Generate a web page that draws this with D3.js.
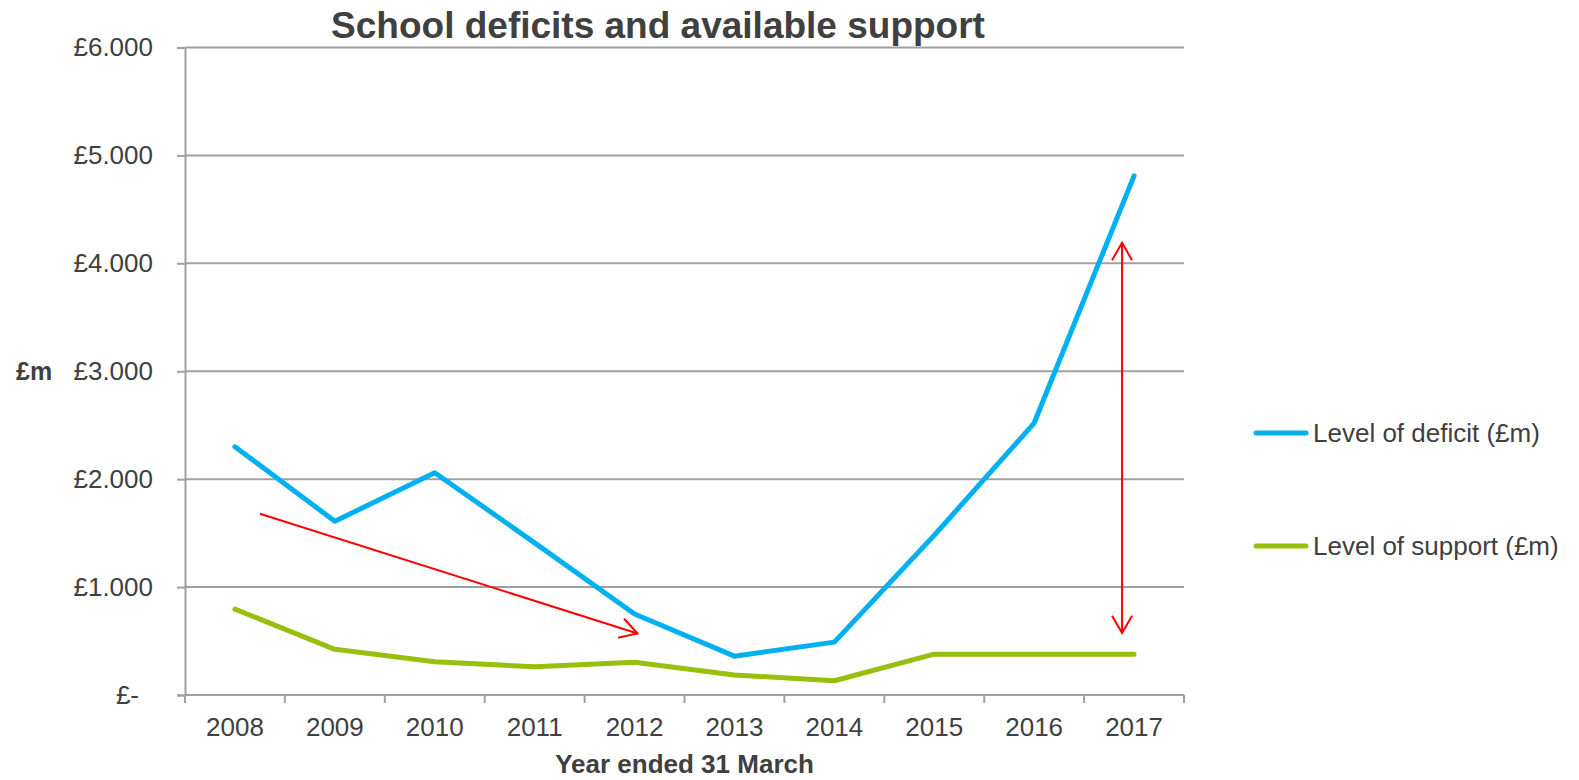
<!DOCTYPE html>
<html>
<head>
<meta charset="utf-8">
<script src="https://cdn.jsdelivr.net/npm/d3@7"></script>
<style>
  html, body { margin: 0; padding: 0; background: #fff; }
  svg { display: block; font-family: "Liberation Sans", Arial, sans-serif; }
</style>
</head>
<body>
<svg id="chart" width="1579" height="780"></svg>
<script>
// ---- data ----
const years = ["2008", "2009", "2010", "2011", "2012", "2013", "2014", "2015", "2016", "2017"];
const deficit = [2300, 1610, 2060, 1410, 750, 360, 490, 1480, 2520, 4810];
const support = [796, 423, 308, 262, 303, 185, 132, 378, 378, 378];
const yTicks = [0, 1000, 2000, 3000, 4000, 5000, 6000];
const seriesNames = ["Level of deficit (£m)", "Level of support (£m)"];
// annotation arrows (x in year units, y in £m)
const trendArrow = [[2008.25, 1680], [2012.03, 570]];
const gapArrow = [[2016.88, 4190], [2016.88, 575]];

(function () {
// ---- layout ----
const svg = d3.select("#chart");
const pLeft = 185, pRight = 1184, pTop = 47.5, pBottom = 695;
const textColor = "#404040", gridColor = "#A0A0A0";
const colors = ["#00B0F0", "#97BF0D"];

const x = d3.scaleBand().domain(years).range([pLeft, pRight]).padding(0);
const xc = d => x(d) + x.bandwidth() / 2;
const xl = d3.scaleLinear().domain([2008, 2017]).range([xc("2008"), xc("2017")]);
const y = d3.scaleLinear().domain([0, 6000]).range([pBottom, pTop]);

// gridlines
svg.append("g").selectAll("line").data(yTicks.filter(d => d > 0)).join("line")
  .attr("x1", pLeft).attr("x2", pRight)
  .attr("y1", d => y(d)).attr("y2", d => y(d))
  .attr("stroke", gridColor).attr("stroke-width", 2);

// y axis
const fmt = d => d === 0 ? "£-" : "£" + d3.format(",")(d).replace(/,/g, ".");
const yAxis = svg.append("g").attr("transform", `translate(${pLeft},0)`)
  .call(d3.axisLeft(y).tickValues(yTicks).tickFormat(fmt).tickSize(8).tickPadding(24));
yAxis.select(".domain").attr("stroke", gridColor).attr("stroke-width", 2);
yAxis.selectAll(".tick line").attr("stroke", gridColor).attr("stroke-width", 2);
yAxis.selectAll(".tick text").attr("fill", textColor).attr("font-size", 26)
  .attr("font-family", "Liberation Sans, Arial, sans-serif")
  .attr("dx", d => d === 0 ? -14 : 0);

// x axis (labels)
const xAxis = svg.append("g").attr("transform", `translate(0,${pBottom})`)
  .call(d3.axisBottom(x).tickSize(0).tickPadding(22.5));
xAxis.select(".domain").remove();
xAxis.selectAll(".tick text").attr("fill", textColor).attr("font-size", 26)
  .attr("font-family", "Liberation Sans, Arial, sans-serif");
// baseline + between-category tick marks
svg.append("line").attr("x1", pLeft).attr("x2", pRight).attr("y1", pBottom).attr("y2", pBottom)
  .attr("stroke", gridColor).attr("stroke-width", 2);
const bounds = years.map(d => x(d)).concat([x(years[years.length - 1]) + x.bandwidth()]);
svg.append("g").selectAll("line").data(bounds).join("line")
  .attr("x1", d => d).attr("x2", d => d).attr("y1", pBottom).attr("y2", pBottom + 8)
  .attr("stroke", gridColor).attr("stroke-width", 2);

// lines
const line = d3.line().x((d, i) => xc(years[i])).y(d => y(d));
[deficit, support].forEach((s, i) => {
  svg.append("path").datum(s).attr("d", line)
    .attr("fill", "none").attr("stroke", colors[i]).attr("stroke-width", 5)
    .attr("stroke-linejoin", "round").attr("stroke-linecap", "round");
});

// arrow marker
const defs = svg.append("defs");
defs.append("marker").attr("id", "chev")
  .attr("markerUnits", "userSpaceOnUse")
  .attr("viewBox", "-22 -13 26 26").attr("markerWidth", 26).attr("markerHeight", 26)
  .attr("refX", 0).attr("refY", 0).attr("orient", "auto-start-reverse")
  .append("path").attr("d", "M-17.3,-10L0,0L-17.3,10")
  .attr("fill", "none").attr("stroke", "#FF0000").attr("stroke-width", 2);

const aLine = d3.line().x(d => xl(d[0])).y(d => y(d[1]));
svg.append("path").datum(trendArrow).attr("d", aLine)
  .attr("fill", "none").attr("stroke", "#FF0000").attr("stroke-width", 2)
  .attr("marker-end", "url(#chev)");
svg.append("path").datum(gapArrow).attr("d", aLine)
  .attr("fill", "none").attr("stroke", "#FF0000").attr("stroke-width", 2)
  .attr("marker-start", "url(#chev)").attr("marker-end", "url(#chev)");

// title
svg.append("text").attr("x", 658).attr("y", 38).attr("text-anchor", "middle")
  .attr("font-size", 37).attr("font-weight", "bold").attr("fill", textColor)
  .text("School deficits and available support");

// axis titles
svg.append("text").attr("x", 16).attr("y", y(3000)).attr("dy", "0.35em")
  .attr("font-size", 25).attr("font-weight", "bold").attr("fill", textColor).text("£m");
svg.append("text").attr("x", (pLeft + pRight) / 2).attr("y", 773).attr("text-anchor", "middle")
  .attr("font-size", 26).attr("font-weight", "bold").attr("fill", textColor).text("Year ended 31 March");

// legend
const legY = [433, 546];
seriesNames.forEach((n, i) => {
  svg.append("line").attr("x1", 1256).attr("x2", 1306).attr("y1", legY[i]).attr("y2", legY[i])
    .attr("stroke", colors[i]).attr("stroke-width", 5).attr("stroke-linecap", "round");
  svg.append("text").attr("x", 1313).attr("y", legY[i]).attr("dy", "0.35em")
    .attr("font-size", 26).attr("fill", textColor).text(n);
});
})();
</script>
</body>
</html>
